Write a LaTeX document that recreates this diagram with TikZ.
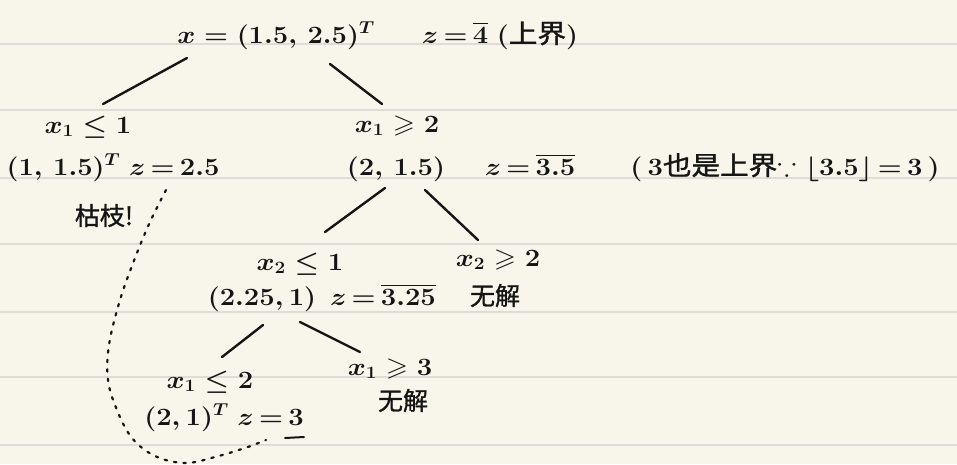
\documentclass[tikz,border=0pt]{standalone}
\usepackage{amssymb}
\usepackage{graphicx}
\usepackage{fontspec}
\newfontfamily\cjk[FakeBold=1.2]{Noto Sans CJK SC}
\definecolor{paper}{HTML}{F8F6EA}
\definecolor{ruling}{HTML}{DDDCD6}
\definecolor{ink}{HTML}{151515}
\newcommand{\hw}[1]{\scalebox{1.1}[1]{#1}}
\newcommand{\eqs}{\,{=}\,}
\begin{document}
\begin{tikzpicture}[x=1pt,y=-1pt,
  txt/.style={anchor=base, inner sep=0pt, text=ink, font=\fontsize{26}{30}\selectfont\boldmath},
  cjktxt/.style={anchor=base, inner sep=0pt, text=ink, font=\fontsize{25}{30}\selectfont\cjk},
  branch/.style={draw=ink, line width=2.4pt, line cap=round},
  prunepath/.style={draw=ink, line width=2.2pt, line cap=round, dash pattern=on 2.5pt off 7pt}]
\fill[paper] (0,0) rectangle (957,464);
\useasboundingbox (0,0) rectangle (957,464);
\foreach \yy in {44,110,178,244,312,377,445}
  \draw[ruling, line width=1.5pt] (0,\yy) -- (957,\yy);

% root
\node[txt] (root) at (276,43) {\hw{$x=(1.5,\,2.5)^{T}$}};
\node[txt] (rootz) at (500,43) {\hw{$z\eqs\overline{4}\;(${\cjk 上界}$)$}};

% left child
\node[txt] (n1) at (88,133) {\hw{$x_1\leq 1$}};
\node[txt] (n1s) at (113,175) {\hw{$(1,\,1.5)^{T}\; z\eqs 2.5$}};
\node[cjktxt] (prune) at (104,225) {枯枝!};

% right child
\node[txt] (n2) at (397,132) {\hw{$x_1\geqslant 2$}};
\node[txt] (n2s) at (396,175) {\hw{$(2,\,1.5)$}};
\node[txt] (n2z) at (530,175) {\hw{$z\eqs\overline{3.5}$}};
\node[txt] (n2note) at (785,175) {\hw{$(\,3${\cjk 也是上界}$\because\lfloor 3.5\rfloor\eqs 3\,)$}};

% level 3
\node[txt] (n3) at (300,270) {\hw{$x_2\leq 1$}};
\node[txt] (n3s) at (262,305) {\hw{$(2.25,1)$}};
\node[txt] (n3z) at (383,305) {\hw{$z\eqs\overline{3.25}$}};
\node[txt] (n4) at (498,266) {\hw{$x_2\geqslant 2$}};
\node[cjktxt] (n4s) at (495,305) {无解};

% level 4
\node[txt] (n5) at (210,388) {\hw{$x_1\leq 2$}};
\node[txt] (n5s) at (224,425) {\hw{$(2,1)^{T}\; z\eqs 3$}};
\node[txt] (n6) at (390,375) {\hw{$x_1\geqslant 3$}};
\node[cjktxt] (n6s) at (403,410) {无解};

% connector end points
\coordinate (a1) at (187,58);  \coordinate (b1) at (103,104);
\coordinate (a2) at (330,64);  \coordinate (b2) at (382,104);
\coordinate (a3) at (385,188); \coordinate (b3) at (325,232);
\coordinate (a4) at (425,190); \coordinate (b4) at (478,240);
\coordinate (a5) at (263,325); \coordinate (b5) at (222,357);
\coordinate (a6) at (300,322); \coordinate (b6) at (360,352);
\draw[branch] (a1) -- (b1);
\draw[branch] (a2) -- (b2);
\draw[branch] (a3) -- (b3);
\draw[branch] (a4) -- (b4);
\draw[branch] (a5) -- (b5);
\draw[branch] (a6) -- (b6);

% underline of the incumbent value
\coordinate (u1) at (285,438); \coordinate (u2) at (304,437);
\draw[branch, line width=2pt] (u1) -- (u2);

% dotted pruning link
\coordinate (p0) at (166,190);
\coordinate (p1) at (266,440);
\draw[prunepath] plot[smooth, tension=0.6] coordinates {(p0) (150,222) (135,258) (120,300) (109,345) (108,380) (117,410) (132,438) (155,456) (185,463) (215,457) (245,448) (p1)};
\end{tikzpicture}
\end{document}
